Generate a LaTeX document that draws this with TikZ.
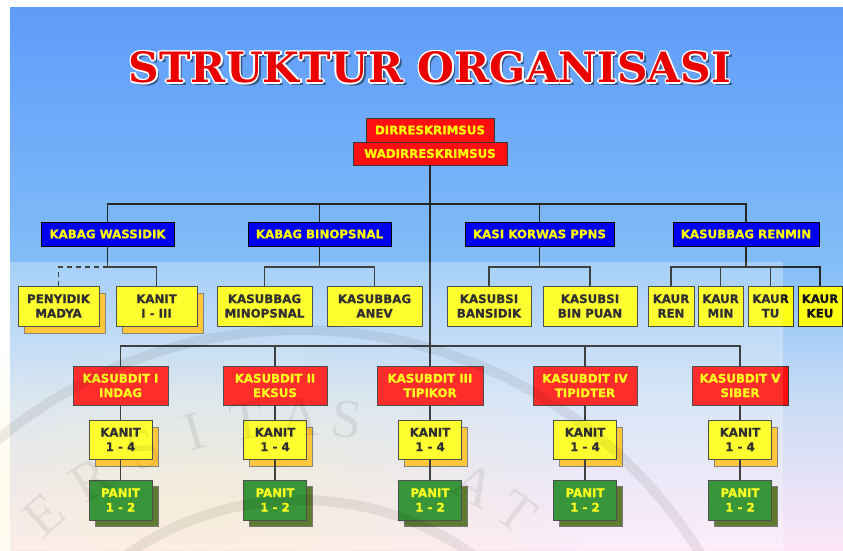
\documentclass[tikz,border=0pt]{standalone}
\usepackage{fontspec}
\usetikzlibrary{shadows,fadings}
\newfontfamily\labfam{DejaVu Sans}[BoldFont=DejaVu Sans Bold, BoldFeatures={FakeBold=0.7}]
\newfontfamily\titlefam{DejaVu Serif}
\newfontfamily\wmfam{Liberation Serif}
\definecolor{bgA}{RGB}{94,156,249}
\definecolor{bgB}{RGB}{130,189,248}
\definecolor{bgC}{RGB}{200,220,245}
\definecolor{bgD}{RGB}{253,230,248}
\definecolor{tintcol}{RGB}{250,238,170}
\definecolor{boxred}{RGB}{255,15,15}
\definecolor{boxblue}{RGB}{0,0,240}
\definecolor{boxyel}{RGB}{255,255,20}
\definecolor{boxgreen}{RGB}{30,135,30}
\definecolor{shorange}{RGB}{255,192,30}
\definecolor{shgreen}{RGB}{72,105,20}
\definecolor{labyel}{RGB}{255,255,0}
\definecolor{labdark}{RGB}{20,20,20}
\definecolor{boxline}{RGB}{55,55,55}
\definecolor{titred}{RGB}{235,0,0}
\pgfdeclareverticalshading{bgshade}{100bp}{color(0bp)=(bgD); color(25bp)=(bgD); color(39bp)=(bgC); color(51.5bp)=(bgB); color(75bp)=(bgA); color(100bp)=(bgA)}
\tikzfading[name=softspot, inner color=transparent!0, outer color=transparent!100]
\newcommand\mytitle{\resizebox{602pt}{31pt}{\titlefam\bfseries STRUKTUR\ ORGANISASI}}
\tikzset{
  box/.style={draw=boxline, line width=0.9pt, inner sep=0pt, align=center,
    font=\labfam\bfseries\fontsize{11.8}{14.5}\selectfont},
  redbox/.style={box, fill=boxred, text=labyel},
  bluebox/.style={box, fill=boxblue, text=labyel, draw=black, minimum height=24pt},
  ylbox/.style={box, fill=boxyel, text=labdark, minimum height=40pt},
  grbox/.style={box, fill=boxgreen, text=labyel, minimum height=40pt,
    drop shadow={shadow xshift=6pt, shadow yshift=-6pt, fill=shgreen, draw=black!60, opacity=1}},
  oshadow/.style={drop shadow={shadow xshift=#1, shadow yshift=-#1-1pt, fill=shorange, draw=black!55, opacity=1}},
  conn/.style={draw=black!85, line width=1.3pt},
  wm/.style={text=black, font=\wmfam\fontsize{55}{55}\selectfont, inner sep=0pt}
}
\begin{document}
\begin{tikzpicture}[x=1pt,y=-1pt]
\useasboundingbox (0,0) rectangle (843,550);
\fill[white] (0,0) rectangle (843,550);
\shade[shading=bgshade] (10,7) rectangle (843,550);
% lighter watermark field (background part)
\begin{scope}
\clip (0,262) rectangle (783,550);
\fill[white, opacity=0.2] (0,262) rectangle (783,550);
\fill[tintcol, opacity=0.45, path fading=softspot] (-200,330) rectangle (600,680);
\end{scope}

% title
\node[inner sep=0pt, text=black, opacity=0.45] (tsh) at (433,70.5) {\mytitle};
\foreach \dx/\dy [count=\i] in {-1.6/0,1.6/0,0/-1.6,0/1.6,-1.1/-1.1,1.1/1.1,-1.1/1.1,1.1/-1.1}
  \node[inner sep=0pt, text=white] (tw\i) at (430+\dx,67.5+\dy) {\mytitle};
\node[inner sep=0pt, text=titred] (title) at (430,67.5) {\mytitle};

% top
\node[redbox, minimum width=128pt, minimum height=24pt] (dir) at (430,130) {DIRRESKRIMSUS};
\node[redbox, minimum width=154pt, minimum height=23pt] (wadir) at (430,153.5) {WADIRRESKRIMSUS};

% blue row
\node[bluebox, minimum width=133pt] (wassidik) at (107.5,234) {KABAG WASSIDIK};
\node[bluebox, minimum width=143pt] (binopsnal) at (319.5,234) {KABAG BINOPSNAL};
\node[bluebox, minimum width=149pt] (korwas) at (539.5,234) {KASI KORWAS PPNS};
\node[bluebox, minimum width=146pt] (renmin) at (746,234) {KASUBBAG RENMIN};

% yellow row
\node[ylbox, oshadow=6pt, minimum width=81pt] (penyidik) at (58.5,306) {PENYIDIK\\MADYA};
\node[ylbox, oshadow=6pt, minimum width=81pt] (kanit13) at (156.5,306) {KANIT\\I - III};
\node[ylbox, minimum width=95pt] (minopsnal) at (264.5,306) {KASUBBAG\\MINOPSNAL};
\node[ylbox, minimum width=95pt] (anev) at (374.5,306) {KASUBBAG\\ANEV};
\node[ylbox, minimum width=84pt] (bansidik) at (489,306) {KASUBSI\\BANSIDIK};
\node[ylbox, minimum width=94pt] (binpuan) at (590,306) {KASUBSI\\BIN PUAN};
\node[ylbox, minimum width=46pt] (kren) at (671,306) {KAUR\\REN};
\node[ylbox, minimum width=45pt] (kmin) at (720.5,306) {KAUR\\MIN};
\node[ylbox, minimum width=45pt] (ktu) at (770.5,306) {KAUR\\TU};
\node[ylbox, minimum width=44pt] (kkeu) at (820,306) {KAUR\\KEU};

% kasubdit row
\node[redbox, minimum width=95pt, minimum height=39pt] (k1) at (120.5,385.5) {KASUBDIT I\\INDAG};
\node[redbox, minimum width=104pt, minimum height=39pt] (k2) at (275,385.5) {KASUBDIT II\\EKSUS};
\node[redbox, minimum width=106pt, minimum height=39pt] (k3) at (430,385.5) {KASUBDIT III\\TIPIKOR};
\node[redbox, minimum width=104pt, minimum height=39pt] (k4) at (585,385.5) {KASUBDIT IV\\TIPIDTER};
\node[redbox, minimum width=96pt, minimum height=39pt] (k5) at (740,385.5) {KASUBDIT V\\SIBER};

% kanit / panit
\foreach \n/\x in {1/120.5,2/275,3/430,4/585,5/740}{
  \node[ylbox, oshadow=6pt, minimum width=63pt, minimum height=39pt] (kn\n) at (\x,439.5) {KANIT\\1 - 4};
  \node[grbox, minimum width=63pt] (pn\n) at (\x,500) {PANIT\\1 - 2};
}

% connectors
\coordinate (r1) at (0,204);
\coordinate (r2) at (0,267);
\coordinate (r3) at (0,346);
\draw[conn] (wadir.south) -- (k3.north);
\draw[conn] (wassidik.north) -- (wassidik.north |- r1) -- (renmin.north |- r1) -- (renmin.north);
\draw[conn] (binopsnal.north) -- (binopsnal.north |- r1);
\draw[conn] (korwas.north) -- (korwas.north |- r1);

\draw[conn] (wassidik.south) -- (wassidik.south |- r2) -| (kanit13.north);
\draw[conn, dash pattern=on 5pt off 4pt] (wassidik.south |- r2) -| (penyidik.north);
\draw[conn] (binopsnal.south) -- (binopsnal.south |- r2);
\draw[conn] (minopsnal.north) |- (anev.north |- r2) -- (anev.north);
\draw[conn] (korwas.south) -- (korwas.south |- r2);
\draw[conn] (bansidik.north) |- (binpuan.north |- r2) -- (binpuan.north);
\draw[conn] (renmin.south) -- (renmin.south |- r2);
\draw[conn] (kren.north) |- (kkeu.north |- r2) -- (kkeu.north);
\draw[conn] (kmin.north) -- (kmin.north |- r2);
\draw[conn] (ktu.north) -- (ktu.north |- r2);

\draw[conn] (k1.north) |- (k5.north |- r3) -- (k5.north);
\draw[conn] (k2.north) -- (k2.north |- r3);
\draw[conn] (k4.north) -- (k4.north |- r3);
\foreach \n in {1,...,5}{
  \draw[conn] (k\n.south) -- (kn\n.north);
  \draw[conn] (kn\n.south) -- (pn\n.north);
}

% translucent watermark layer on top
\begin{scope}
\clip (0,262) rectangle (783,550);
\fill[white, opacity=0.12] (0,262) rectangle (783,550);
\begin{scope}[opacity=0.07]
\draw[black, line width=10pt] (300,800) circle (470);
\draw[black, line width=10pt] (300,800) circle (300);
\node[wm, rotate=42] (wE) at (44,515) {E};
\node[wm, rotate=33] (wR) at (91,479) {R};
\node[wm, rotate=24] (wS) at (144,450) {S};
\node[wm, rotate=16] (wI) at (194,432) {I};
\node[wm, rotate=8] (wT) at (247,421) {T};
\node[wm, rotate=0] (wA) at (300,417) {A};
\node[wm, rotate=-7] (wS2) at (347,420) {S};
\node[wm, rotate=-29] (wA2) at (475,485) {A};
\node[wm, rotate=-37] (wT2) at (517,512) {T};
\end{scope}
\end{scope}
\end{tikzpicture}
\end{document}
